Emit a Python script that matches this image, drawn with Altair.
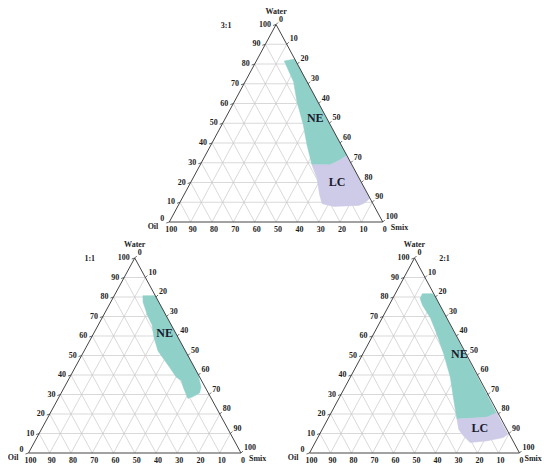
import altair as alt
import pandas as pd

# ---------------- data (ternary %: water, smix; oil = 100 - water - smix) ----------------
TICKS = [0, 10, 20, 30, 40, 50, 60, 70, 80, 90, 100]
GRID = [10, 20, 30, 40, 50, 60, 70, 80, 90]
PANEL_NAMES = ["3:1", "1:1", "2:1"]

ne31_water = [81.5, 82.5, 33.7, 31.0, 29.0, 29.0, 39.0, 49.0, 61.0, 71.0]
ne31_smix = [13.1, 17.5, 66.3, 63.8, 60.9, 52.3, 45.0, 38.3, 29.3, 22.7]

lc31_water = [33.7, 12.0, 9.5, 8.4, 7.9, 9.3, 13.8, 22.2, 29.0, 29.0, 31.0]
lc31_smix = [66.3, 88.0, 86.5, 84.5, 73.0, 66.9, 63.5, 58.1, 52.3, 60.9, 63.8]

ne11_water = [80.7, 80.7, 40.5, 33.8, 30.8, 28.8, 28.0, 33.0, 37.2, 38.9, 43.9, 52.3, 59.0, 65.7, 70.7, 77.4]
ne11_smix = [13.5, 19.3, 59.5, 64.3, 65.1, 62.9, 61.0, 56.6, 53.3, 50.1, 44.5, 34.8, 29.6, 25.3, 20.6, 15.2]

ne21_water = [79.2, 81.7, 81.7, 80.5, 20.5, 18.3, 17.4, 27.2, 38.9, 50.7, 60.7, 69.1, 75.8]
ne21_smix = [13.1, 12.9, 17.6, 19.5, 78.8, 75.2, 61.5, 55.1, 47.6, 38.6, 30.4, 23.1, 15.9]

lc21_water = [20.5, 9.6, 7.9, 6.2, 5.4, 8.7, 12.1, 17.4, 18.3]
lc21_smix = [78.8, 89.7, 88.3, 81.2, 73.8, 69.0, 65.0, 61.5, 75.2]

region_labels = ["NE", "LC", "NE", "NE", "LC"]
region_panels = ["3:1", "3:1", "1:1", "2:1", "2:1"]
label_water = [52.5, 20.5, 61.5, 50.7, 12.9]
label_smix = [42.1, 68.3, 33.3, 46.0, 74.7]

# ---------------- layout (page px): left-base corner x, base y, width, height ----------------
PANELS = {
    "3:1": (169.3, 222.0, 213.5, 197.5),
    "1:1": (28.5, 453.0, 212.5, 195.0),
    "2:1": (309.5, 453.0, 210.0, 195.0),
}
OIL_DX = {"3:1": -11, "1:1": -10, "2:1": -11}
SMIX_DX = {"3:1": 8, "1:1": 8, "2:1": 5}
RATIO_POS = {"3:1": (-50, 1), "1:1": (-45, 1), "2:1": (30, 1)}
NE_COLOR = "#8fd0c8"
LC_COLOR = "#cdcbe8"
FONT = "Liberation Serif"
TEXT_COLOR = "#1e1e1e"


def tern(panel, water, smix):
    x0, yb, w, h = PANELS[panel]
    return x0 + (smix + water / 2.0) / 100.0 * w, yb - water / 100.0 * h


# polygons
poly_rows = []
for key, panel, kind, ws, ss in [
    ("ne31", "3:1", "NE", ne31_water, ne31_smix),
    ("lc31", "3:1", "LC", lc31_water, lc31_smix),
    ("ne11", "1:1", "NE", ne11_water, ne11_smix),
    ("ne21", "2:1", "NE", ne21_water, ne21_smix),
    ("lc21", "2:1", "LC", lc21_water, lc21_smix),
]:
    pts = list(zip(ws, ss)) + [(ws[0], ss[0])]
    for i, (w, s) in enumerate(pts):
        X, Y = tern(panel, w, s)
        poly_rows.append({"key": key, "kind": kind, "i": i, "X": X, "Y": Y})
poly = pd.DataFrame(poly_rows)

# grid lines, edges, ticks
grid_rows, edge_rows, tick_rows = [], [], []
for p in PANEL_NAMES:
    for k in GRID:
        for a, b in [((k, 0), (k, 100 - k)), ((0, k), (100 - k, k)), ((0, 100 - k), (100 - k, 0))]:
            x1, y1 = tern(p, *a)
            x2, y2 = tern(p, *b)
            grid_rows.append({"X": x1, "Y": y1, "X2": x2, "Y2": y2})
    for a, b in [((0, 0), (0, 100)), ((0, 0), (100, 0)), ((100, 0), (0, 100))]:
        x1, y1 = tern(p, *a)
        x2, y2 = tern(p, *b)
        edge_rows.append({"X": x1, "Y": y1, "X2": x2, "Y2": y2})
    for k in TICKS:
        x1, y1 = tern(p, k, 0)
        tick_rows.append({"X": x1, "Y": y1, "X2": x1 - 3, "Y2": y1 + 1})
        x1, y1 = tern(p, 100 - k, k)
        tick_rows.append({"X": x1, "Y": y1, "X2": x1 + 2, "Y2": y1 - 2})
grid = pd.DataFrame(grid_rows)
edges = pd.DataFrame(edge_rows)
ticks = pd.DataFrame(tick_rows)

left_rows, right_rows, bottom_rows = [], [], []
for p in PANEL_NAMES:
    for k in TICKS:
        X, Y = tern(p, k, 0)
        left_rows.append({"X": X, "Y": Y - (3 if k == 0 else 0), "t": str(k)})
        X, Y = tern(p, 100 - k, k)
        right_rows.append({"X": X, "Y": Y, "t": str(k)})
        X, Y = tern(p, 0, 100 - k)
        bottom_rows.append({"X": X, "Y": Y, "t": str(k)})
left_lab = pd.DataFrame(left_rows)
right_lab = pd.DataFrame(right_rows)
bottom_lab = pd.DataFrame(bottom_rows)

water_rows, oil_rows, smix_rows, ratio_rows = [], [], [], []
for p in PANEL_NAMES:
    X, Y = tern(p, 100, 0)
    water_rows.append({"X": X, "Y": Y, "t": "Water"})
    ratio_rows.append({"X": X + RATIO_POS[p][0], "Y": Y + RATIO_POS[p][1], "t": p})
    X, Y = tern(p, 0, 0)
    oil_rows.append({"X": X + OIL_DX[p], "Y": Y, "t": "Oil"})
    X, Y = tern(p, 0, 100)
    smix_rows.append({"X": X + SMIX_DX[p], "Y": Y, "t": "Smix"})
water_lab = pd.DataFrame(water_rows)
oil_lab = pd.DataFrame(oil_rows)
smix_lab = pd.DataFrame(smix_rows)
ratio = pd.DataFrame(ratio_rows)

reg_lab = pd.DataFrame([
    {"X": tern(p, w, s)[0], "Y": tern(p, w, s)[1], "t": t}
    for p, w, s, t in zip(region_panels, label_water, label_smix, region_labels)
])

# ---------------- chart ----------------
xs = alt.Scale(domain=[8, 542])
ys = alt.Scale(domain=[8, 466], reverse=True)
X = alt.X("X:Q", scale=xs, axis=None)
Y = alt.Y("Y:Q", scale=ys, axis=None)


def txt(df, **kw):
    base = dict(font=FONT, fontWeight="bold", fontSize=8, fill=TEXT_COLOR)
    base.update(kw)
    return alt.Chart(df).mark_text(**base).encode(x=X, y=Y, text="t:N")


ne_layer = alt.Chart(poly[poly.kind == "NE"]).mark_line(
    fill=NE_COLOR, stroke=NE_COLOR, strokeWidth=0.5
).encode(x=X, y=Y, order="i:Q", detail="key:N")
lc_layer = alt.Chart(poly[poly.kind == "LC"]).mark_line(
    fill=LC_COLOR, stroke=LC_COLOR, strokeWidth=0.5
).encode(x=X, y=Y, order="i:Q", detail="key:N")

grid_layer = alt.Chart(grid).mark_rule(color="#c8c8c8", strokeWidth=0.7).encode(
    x=X, y=Y, x2="X2:Q", y2="Y2:Q")
edge_layer = alt.Chart(edges).mark_rule(color="#444444", strokeWidth=1).encode(
    x=X, y=Y, x2="X2:Q", y2="Y2:Q")
tick_layer = alt.Chart(ticks).mark_rule(color="#444444", strokeWidth=0.8).encode(
    x=X, y=Y, x2="X2:Q", y2="Y2:Q")

chart = alt.layer(
    grid_layer,
    ne_layer,
    lc_layer,
    edge_layer,
    tick_layer,
    txt(left_lab, align="right", baseline="middle", dx=-5),
    txt(right_lab, align="left", baseline="middle", dx=3, dy=-5),
    txt(bottom_lab, align="center", baseline="middle", dx=2, dy=8),
    txt(water_lab, align="center", baseline="middle", dy=-13),
    txt(oil_lab, align="right", baseline="middle", dy=5),
    txt(smix_lab, align="left", baseline="middle", dy=6),
    txt(ratio, align="center", baseline="middle"),
    txt(reg_lab, align="center", baseline="middle", fontSize=12, fill="#1a1a2e"),
).properties(
    width=534, height=458, padding=0, autosize=alt.AutoSizeParams(type="none")
).configure_view(stroke=None)

chart.save("out.html", embed_options={"renderer": "svg", "actions": False})
